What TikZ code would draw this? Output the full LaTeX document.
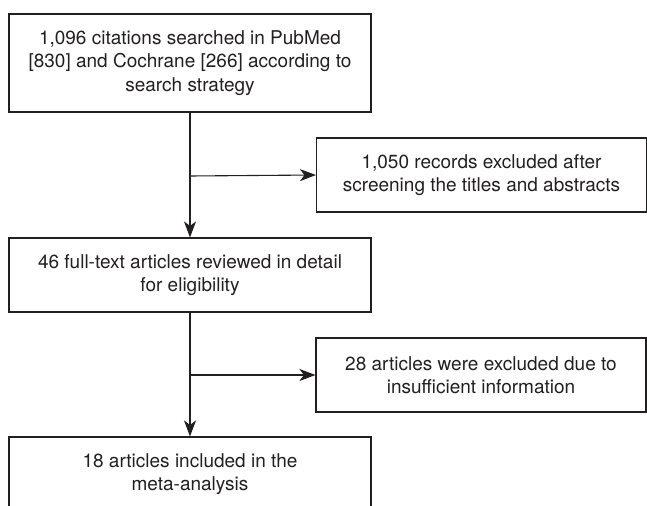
\documentclass[tikz,border=0pt]{standalone}
\usepackage{fontspec}
\setmainfont{TeX Gyre Heros}
\usetikzlibrary{arrows.meta}
\definecolor{ink}{HTML}{231F20}
\begin{document}
\begin{tikzpicture}[x=1bp,y=-1bp,
  box/.style={draw=ink,line width=1.1bp,rectangle,inner sep=0pt,align=center,
    text=ink,font=\fontsize{19bp}{23.5bp}\selectfont},
  conn/.style={draw=ink,line width=1.1bp,-{Stealth[length=16bp,width=12bp,inset=4.5bp]}}]
\useasboundingbox (0,0) rectangle (647,506);
\node[box,minimum width=362bp,minimum height=98bp] (b1) at (190,63)
  {1,096 citations searched in PubMed\\{[830]} and Cochrane [266] according to\\search strategy};
\node[box,minimum width=330bp,minimum height=74bp] (b2) at (481.5,175)
  {1,050 records excluded after\\screening the titles and abstracts};
\node[box,minimum width=362bp,minimum height=74bp] (b3) at (190,275)
  {46 full-text articles reviewed in detail\\for eligibility};
\node[box,minimum width=330bp,minimum height=74bp] (b4) at (481,375)
  {28 articles were excluded due to\\insufficient information};
\node[box,minimum width=362bp,minimum height=74bp] (b5) at (190,474)
  {18 articles included in the\\meta-analysis};
\coordinate (j1) at (190,176);
\coordinate (j2) at (190,375);
\draw[conn] (b1.south) -- (b3.north);
\draw[conn] (j1) -- (b2.west);
\draw[conn] (b3.south) -- (b5.north);
\draw[conn] (j2) -- (b4.west);
\end{tikzpicture}
\end{document}
